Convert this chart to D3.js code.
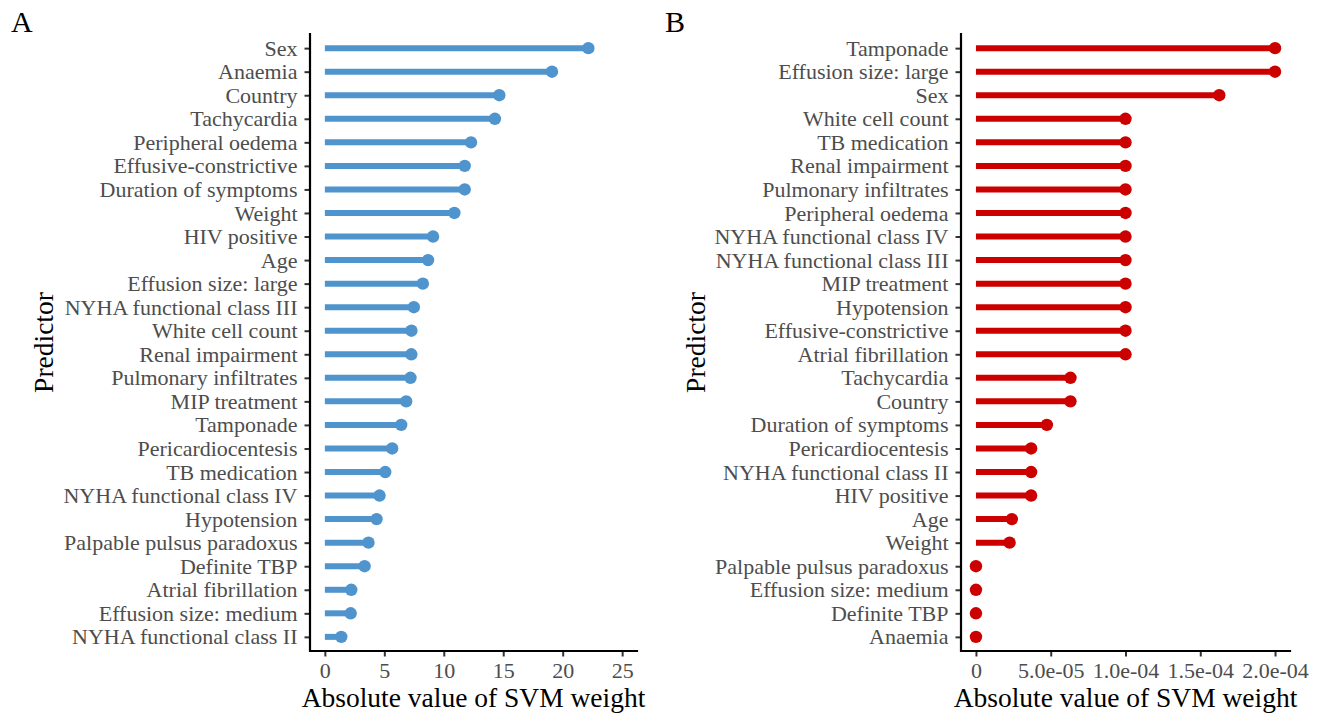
<!DOCTYPE html>
<html>
<head>
<meta charset="utf-8">
<script src="https://cdn.jsdelivr.net/npm/d3@7"></script>
<style>
  html, body { margin: 0; padding: 0; background: #fff; }
  svg { display: block; font-family: "Liberation Serif", "Times New Roman", serif; }
</style>
</head>
<body>
<svg id="chart" width="1317" height="715"></svg>
<script>
// Panel A: SVM weights (absolute), top to bottom
const predictorsA = [
  "Sex", "Anaemia", "Country", "Tachycardia", "Peripheral oedema",
  "Effusive-constrictive", "Duration of symptoms", "Weight", "HIV positive", "Age",
  "Effusion size: large", "NYHA functional class III", "White cell count", "Renal impairment",
  "Pulmonary infiltrates", "MIP treatment", "Tamponade", "Pericardiocentesis", "TB medication",
  "NYHA functional class IV", "Hypotension", "Palpable pulsus paradoxus", "Definite TBP",
  "Atrial fibrillation", "Effusion size: medium", "NYHA functional class II"
];
const weightsA = [
  22.16, 19.1, 14.67, 14.3, 12.29,
  11.76, 11.76, 10.89, 9.1, 8.68,
  8.24, 7.48, 7.28, 7.27,
  7.2, 6.84, 6.42, 5.66, 5.08,
  4.6, 4.35, 3.67, 3.34,
  2.22, 2.17, 1.38
];
const ticksA = [0, 5, 10, 15, 20, 25];
const tickLabelsA = ["0", "5", "10", "15", "20", "25"];

// Panel B: SVM weights (absolute), top to bottom
const predictorsB = [
  "Tamponade", "Effusion size: large", "Sex", "White cell count", "TB medication",
  "Renal impairment", "Pulmonary infiltrates", "Peripheral oedema", "NYHA functional class IV",
  "NYHA functional class III", "MIP treatment", "Hypotension", "Effusive-constrictive",
  "Atrial fibrillation", "Tachycardia", "Country", "Duration of symptoms", "Pericardiocentesis",
  "NYHA functional class II", "HIV positive", "Age", "Weight", "Palpable pulsus paradoxus",
  "Effusion size: medium", "Definite TBP", "Anaemia"
];
const weightsB = [
  2.0e-4, 2.0e-4, 1.627e-4, 1.0e-4, 1.0e-4,
  1.0e-4, 1.0e-4, 1.0e-4, 1.0e-4,
  1.0e-4, 1.0e-4, 1.0e-4, 1.0e-4,
  1.0e-4, 6.32e-5, 6.32e-5, 4.74e-5, 3.69e-5,
  3.69e-5, 3.69e-5, 2.4e-5, 2.25e-5, 0,
  0, 0, 0
];
const ticksB = [0, 5e-5, 1e-4, 1.5e-4, 2e-4];
const tickLabelsB = ["0", "5.0e-05", "1.0e-04", "1.5e-04", "2.0e-04"];

const svg = d3.select("#chart");
const FONT = "Liberation Serif";

function drawPanel(opts) {
  const { tag, tagX, predictors, weights, ticks, tickLabels, domain, color, left, right, top, bottom, titleX } = opts;
  const g = svg.append("g");

  const x = d3.scaleLinear().domain(domain).range([left, right]);
  const y = d3.scalePoint().domain(predictors).range([top, bottom]).padding(0.6);

  // lollipop stems
  g.selectAll("line.stem").data(predictors).join("line")
    .attr("class", "stem")
    .attr("x1", x(0))
    .attr("x2", (d, i) => x(weights[i]))
    .attr("y1", d => y(d)).attr("y2", d => y(d))
    .attr("stroke", color).attr("stroke-width", 6);

  // lollipop heads
  g.selectAll("circle.head").data(predictors).join("circle")
    .attr("class", "head")
    .attr("cx", (d, i) => x(weights[i]))
    .attr("cy", d => y(d))
    .attr("r", 6.2)
    .attr("fill", color);

  // x axis
  const xAxis = d3.axisBottom(x).tickValues(ticks)
    .tickFormat((d, i) => tickLabels[i]).tickSize(5.5).tickSizeOuter(0).tickPadding(6);
  const gx = g.append("g").attr("transform", `translate(0,${bottom})`).call(xAxis)
    .attr("font-family", FONT);
  gx.select(".domain").remove();
  gx.selectAll(".tick line").attr("stroke", "#333333").attr("stroke-width", 2);
  gx.selectAll(".tick text").attr("fill", "#4D4D4D").attr("font-size", 22);

  // y axis
  const yAxis = d3.axisLeft(y).tickSize(5.5).tickSizeOuter(0).tickPadding(7);
  const gy = g.append("g").attr("transform", `translate(${left},0)`).call(yAxis)
    .attr("font-family", FONT);
  gy.select(".domain").remove();
  gy.selectAll(".tick line").attr("stroke", "#333333").attr("stroke-width", 2);
  gy.selectAll(".tick text").attr("fill", "#4D4D4D").attr("font-size", 22);

  // axis lines
  g.append("path")
    .attr("d", `M${left},${top}V${bottom}H${right}`)
    .attr("fill", "none").attr("stroke", "#000").attr("stroke-width", 2.2)
    .attr("stroke-linejoin", "miter").attr("stroke-linecap", "square");

  // axis titles
  g.append("text")
    .attr("x", (left + right) / 2).attr("y", 707)
    .attr("text-anchor", "middle").attr("font-size", 27.5).attr("fill", "#000")
    .text("Absolute value of SVM weight");
  g.append("text")
    .attr("transform", `translate(${titleX},${(top + bottom) / 2}) rotate(-90)`)
    .attr("text-anchor", "middle").attr("font-size", 27.5).attr("fill", "#000")
    .text("Predictor");

  // panel tag
  g.append("text")
    .attr("x", tagX).attr("y", 32)
    .attr("font-size", 30).attr("fill", "#000")
    .text(tag);
}

drawPanel({
  tag: "A", tagX: 11,
  predictors: predictorsA, weights: weightsA,
  ticks: ticksA, tickLabels: tickLabelsA,
  domain: [-1.25, 26.25], color: "#4F94CD",
  left: 310, right: 637, top: 34, bottom: 651, titleX: 53
});

drawPanel({
  tag: "B", tagX: 665,
  predictors: predictorsB, weights: weightsB,
  ticks: ticksB, tickLabels: tickLabelsB,
  domain: [-1e-5, 2.1e-4], color: "#CD0000",
  left: 961, right: 1290, top: 34, bottom: 651, titleX: 705
});
</script>
</body>
</html>
